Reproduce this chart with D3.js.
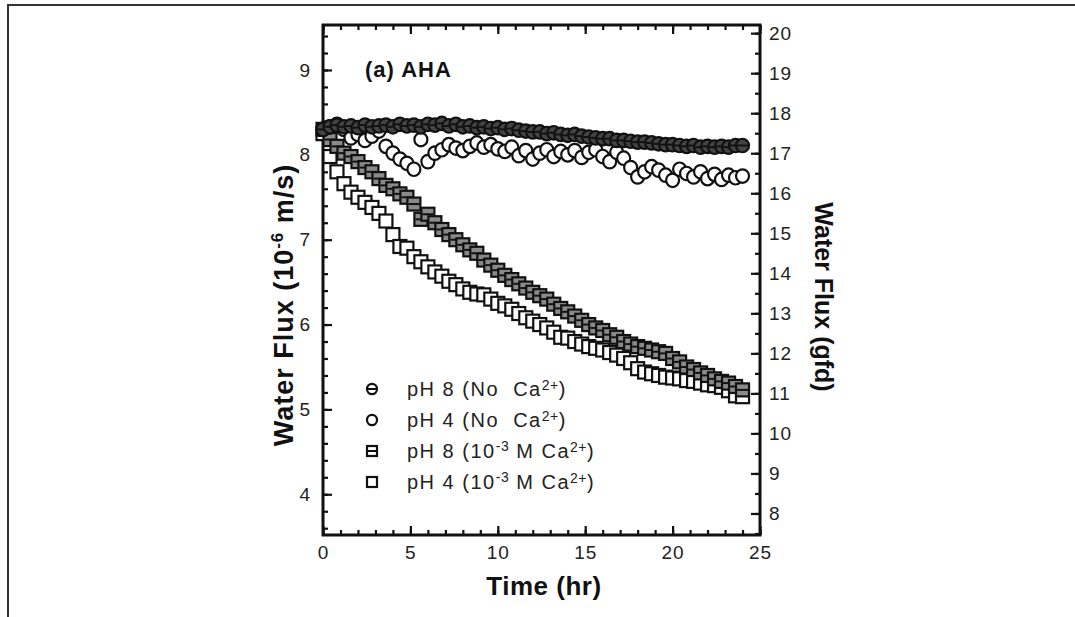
<!DOCTYPE html>
<html>
<head>
<meta charset="utf-8">
<script src="https://cdn.jsdelivr.net/npm/d3@7"></script>
<style>
  body { margin: 0; background: #fff; }
  svg { display: block; font-family: "Liberation Sans", Arial, sans-serif; }
  text { white-space: pre; }
</style>
</head>
<body>
<svg id="chart" width="1075" height="617"></svg>
<script>
// time points (hr)
var hours = [0, 0.4, 0.8, 1.2, 1.6, 2.0, 2.4, 2.8, 3.2, 3.6, 4.0, 4.4, 4.8, 5.2, 5.6, 6.0,
  6.4, 6.8, 7.2, 7.6, 8.0, 8.4, 8.8, 9.2, 9.6, 10.0, 10.4, 10.8, 11.2, 11.6, 12.0,
  12.4, 12.8, 13.2, 13.6, 14.0, 14.4, 14.8, 15.2, 15.6, 16.0, 16.4, 16.8, 17.2, 17.6,
  18.0, 18.4, 18.8, 19.2, 19.6, 20.0, 20.4, 20.8, 21.2, 21.6, 22.0, 22.4, 22.8, 23.2,
  23.6, 24.0];

// water flux, 10^-6 m/s
var ph8NoCa = [8.30, 8.33, 8.35, 8.33, 8.34, 8.32, 8.35, 8.33, 8.34, 8.35, 8.33, 8.36,
  8.34, 8.35, 8.33, 8.36, 8.35, 8.37, 8.34, 8.36, 8.33, 8.34, 8.32, 8.33, 8.31, 8.32,
  8.30, 8.31, 8.29, 8.28, 8.27, 8.27, 8.25, 8.26, 8.24, 8.23, 8.24, 8.22, 8.21, 8.20,
  8.19, 8.19, 8.17, 8.17, 8.16, 8.15, 8.15, 8.14, 8.13, 8.12, 8.12, 8.11, 8.10, 8.11,
  8.09, 8.10, 8.09, 8.10, 8.09, 8.11, 8.11];
var ph4NoCa = [8.30, 8.33, 8.36, 8.30, 8.20, 8.24, 8.17, 8.22, 8.28, 8.10, 8.02, 7.95,
  7.90, 7.83, 8.18, 7.92, 8.02, 8.06, 8.12, 8.08, 8.05, 8.10, 8.14, 8.09, 8.12, 8.07,
  8.04, 8.09, 7.99, 8.05, 7.95, 8.02, 8.06, 7.98, 8.04, 8.00, 8.05, 7.97, 8.03, 8.06,
  7.98, 7.92, 8.03, 7.96, 7.85, 7.74, 7.80, 7.86, 7.82, 7.76, 7.70, 7.83, 7.78, 7.74,
  7.80, 7.72, 7.77, 7.71, 7.76, 7.73, 7.75];
var ph8Ca = [8.30, 8.18, 8.10, 8.02, 7.98, 7.92, 7.85, 7.80, 7.72, 7.64, 7.60, 7.54,
  7.50, 7.42, 7.24, 7.30, 7.20, 7.12, 7.06, 7.00, 6.94, 6.88, 6.84, 6.76, 6.70, 6.64,
  6.58, 6.53, 6.48, 6.43, 6.38, 6.34, 6.30, 6.24, 6.19, 6.15, 6.10, 6.05, 6.00, 5.96,
  5.93, 5.88, 5.85, 5.80, 5.77, 5.74, 5.72, 5.70, 5.68, 5.66, 5.60, 5.56, 5.50, 5.47,
  5.43, 5.40, 5.36, 5.33, 5.31, 5.27, 5.23];
var ph4Ca = [8.25, 7.98, 7.80, 7.66, 7.56, 7.50, 7.44, 7.38, 7.31, 7.22, 7.06, 6.92,
  6.90, 6.80, 6.74, 6.68, 6.62, 6.57, 6.51, 6.47, 6.42, 6.38, 6.36, 6.35, 6.30, 6.25,
  6.22, 6.18, 6.13, 6.08, 6.04, 6.00, 5.96, 5.91, 5.85, 5.84, 5.80, 5.77, 5.74, 5.72,
  5.70, 5.67, 5.64, 5.60, 5.55, 5.48, 5.44, 5.42, 5.40, 5.38, 5.37, 5.36, 5.34, 5.33,
  5.31, 5.29, 5.28, 5.26, 5.22, 5.16, 5.15];

var seriesNames = ["pH 8 (No  Ca", "pH 4 (No  Ca", "pH 8 (10", "pH 4 (10"];
var seriesShapes = ["circleLine", "circle", "squareLine", "square"];
var seriesFill = ["#444", "#fff", "#8a8a8a", "#fff"];

var xTicks = [0, 5, 10, 15, 20, 25];
var yTicksLeft = [4, 5, 6, 7, 8, 9];
var yTicksRight = [8, 9, 10, 11, 12, 13, 14, 15, 16, 17, 18, 19, 20];
var gfdPerUnit = 2.12; // 1e-6 m/s in gfd

var svg = d3.select("#chart");

// page frame
svg.append("line").attr("x1", 7).attr("x2", 1075).attr("y1", 5).attr("y2", 5)
  .attr("stroke", "#333").attr("stroke-width", 2);
svg.append("line").attr("x1", 8).attr("x2", 8).attr("y1", 5).attr("y2", 617)
  .attr("stroke", "#333").attr("stroke-width", 2);

var pLeft = 323, pRight = 760, pTop = 25, pBottom = 535;

var x = d3.scaleLinear().domain([0, 25]).range([pLeft, pRight]);
var y = d3.scaleLinear().domain([3.52, 9.53]).range([pBottom, pTop]);
var yR = d3.scaleLinear().domain([3.52 * gfdPerUnit, 9.53 * gfdPerUnit]).range([pBottom, pTop]);

function minor(scale, step) {
  var d = scale.domain(), out = [];
  for (var v = Math.ceil(d[0] / step) * step; v <= d[1] + 1e-9; v += step) out.push(+v.toFixed(3));
  return out;
}

// minor ticks
svg.append("g").attr("transform", "translate(" + pLeft + ",0)")
  .call(d3.axisLeft(y).tickValues(minor(y, 0.2)).tickSizeInner(-5).tickSizeOuter(0).tickFormat(""));
svg.append("g").attr("transform", "translate(" + pRight + ",0)")
  .call(d3.axisRight(yR).tickValues(minor(yR, 0.5)).tickSizeInner(-5).tickSizeOuter(0).tickFormat(""));
svg.append("g").attr("transform", "translate(0," + pBottom + ")")
  .call(d3.axisBottom(x).tickValues(minor(x, 1)).tickSizeInner(-5).tickSizeOuter(0).tickFormat(""));
svg.append("g").attr("transform", "translate(0," + pTop + ")")
  .call(d3.axisTop(x).tickValues(minor(x, 1)).tickSizeInner(-5).tickSizeOuter(0).tickFormat(""));

// major ticks with labels
svg.append("g").attr("transform", "translate(" + pLeft + ",0)")
  .call(d3.axisLeft(y).tickValues(yTicksLeft).tickSizeInner(-9).tickSizeOuter(0).tickPadding(12).tickFormat(d3.format("d")));
svg.append("g").attr("transform", "translate(" + pRight + ",0)")
  .call(d3.axisRight(yR).tickValues(yTicksRight).tickSizeInner(-9).tickSizeOuter(0).tickPadding(9).tickFormat(d3.format("d")));
svg.append("g").attr("transform", "translate(0," + pBottom + ")")
  .call(d3.axisBottom(x).tickValues(xTicks).tickSizeInner(-9).tickSizeOuter(0).tickPadding(11).tickFormat(d3.format("d")));
svg.append("g").attr("transform", "translate(0," + pTop + ")")
  .call(d3.axisTop(x).tickValues(xTicks).tickSizeInner(-9).tickSizeOuter(0).tickFormat(""));

svg.selectAll(".tick line").attr("stroke", "#111").attr("stroke-width", 2.2);
svg.selectAll(".domain").remove();
svg.selectAll(".tick text").attr("font-size", 19).attr("fill", "#222")
  .attr("letter-spacing", 1).attr("font-family", "Liberation Sans, Arial, sans-serif");

// plot box
svg.append("rect").attr("x", pLeft).attr("y", pTop).attr("width", pRight - pLeft).attr("height", pBottom - pTop)
  .attr("fill", "none").attr("stroke", "#111").attr("stroke-width", 3);

// markers
function drawMarker(g, shape, s, fill) {
  if (shape === "circleLine" || shape === "circle") {
    g.append("ellipse").attr("rx", s * 0.5).attr("ry", s * 0.52).attr("fill", fill)
      .attr("stroke", "#111").attr("stroke-width", 2.2);
  } else {
    g.append("rect").attr("x", -s / 2).attr("y", -s / 2).attr("width", s).attr("height", s)
      .attr("fill", fill).attr("stroke", "#111").attr("stroke-width", 2.2);
  }
  if (shape === "circleLine" || shape === "squareLine") {
    g.append("line").attr("x1", -s / 2 + 1).attr("x2", s / 2 - 1).attr("y1", 0).attr("y2", 0)
      .attr("stroke", "#111").attr("stroke-width", 2);
  }
}

var allSeries = [ph8NoCa, ph4NoCa, ph8Ca, ph4Ca];
var drawOrder = [3, 2, 1, 0];
drawOrder.forEach(function (k) {
  var pts = svg.append("g").selectAll("g")
    .data(hours.map(function (h, i) { return { t: h, v: allSeries[k][i] }; }))
    .enter().append("g")
    .attr("transform", function (d) { return "translate(" + x(d.t) + "," + y(d.v) + ")"; });
  pts.each(function () { drawMarker(d3.select(this), seriesShapes[k], 13, seriesFill[k]); });
});

// legend
var legendRows = [396, 427, 458, 489];
seriesNames.forEach(function (name, i) {
  var g = svg.append("g").attr("transform", "translate(372," + (legendRows[i] - 7) + ")");
  drawMarker(g, seriesShapes[i], 10, "#fff");
  var t = svg.append("text").attr("x", 407).attr("y", legendRows[i])
    .attr("font-size", 20).attr("letter-spacing", 1.5).attr("fill", "#222");
  t.append("tspan").text(name);
  if (i >= 2) {
    t.append("tspan").attr("font-size", 14).attr("letter-spacing", 0.5).attr("dy", -7).text("-3");
    t.append("tspan").attr("dy", 7).text(" M Ca");
  }
  t.append("tspan").attr("font-size", 14).attr("letter-spacing", 0.5).attr("dy", -6).text("2+");
  t.append("tspan").attr("dy", 6).text(")");
});

// labels
svg.append("text").attr("x", 365).attr("y", 77).attr("font-size", 22).attr("letter-spacing", 1)
  .attr("font-weight", "bold").attr("fill", "#111").text("(a) AHA");

svg.append("text").attr("x", 544).attr("y", 595).attr("text-anchor", "middle")
  .attr("font-size", 26).attr("letter-spacing", 0.5).attr("font-weight", "bold").attr("fill", "#111")
  .text("Time (hr)");

var lt = svg.append("text").attr("transform", "translate(293,305) rotate(-90)")
  .attr("text-anchor", "middle").attr("font-size", 27).attr("letter-spacing", 1)
  .attr("font-weight", "bold").attr("fill", "#111");
lt.append("tspan").text("Water Flux (10");
lt.append("tspan").attr("font-size", 17).attr("dy", -10).text("-6");
lt.append("tspan").attr("dy", 10).text(" m/s)");

svg.append("text").attr("transform", "translate(815,297) rotate(90)")
  .attr("text-anchor", "middle").attr("font-size", 25).attr("font-weight", "bold").attr("fill", "#111")
  .text("Water Flux (gfd)");
</script>
</body>
</html>
